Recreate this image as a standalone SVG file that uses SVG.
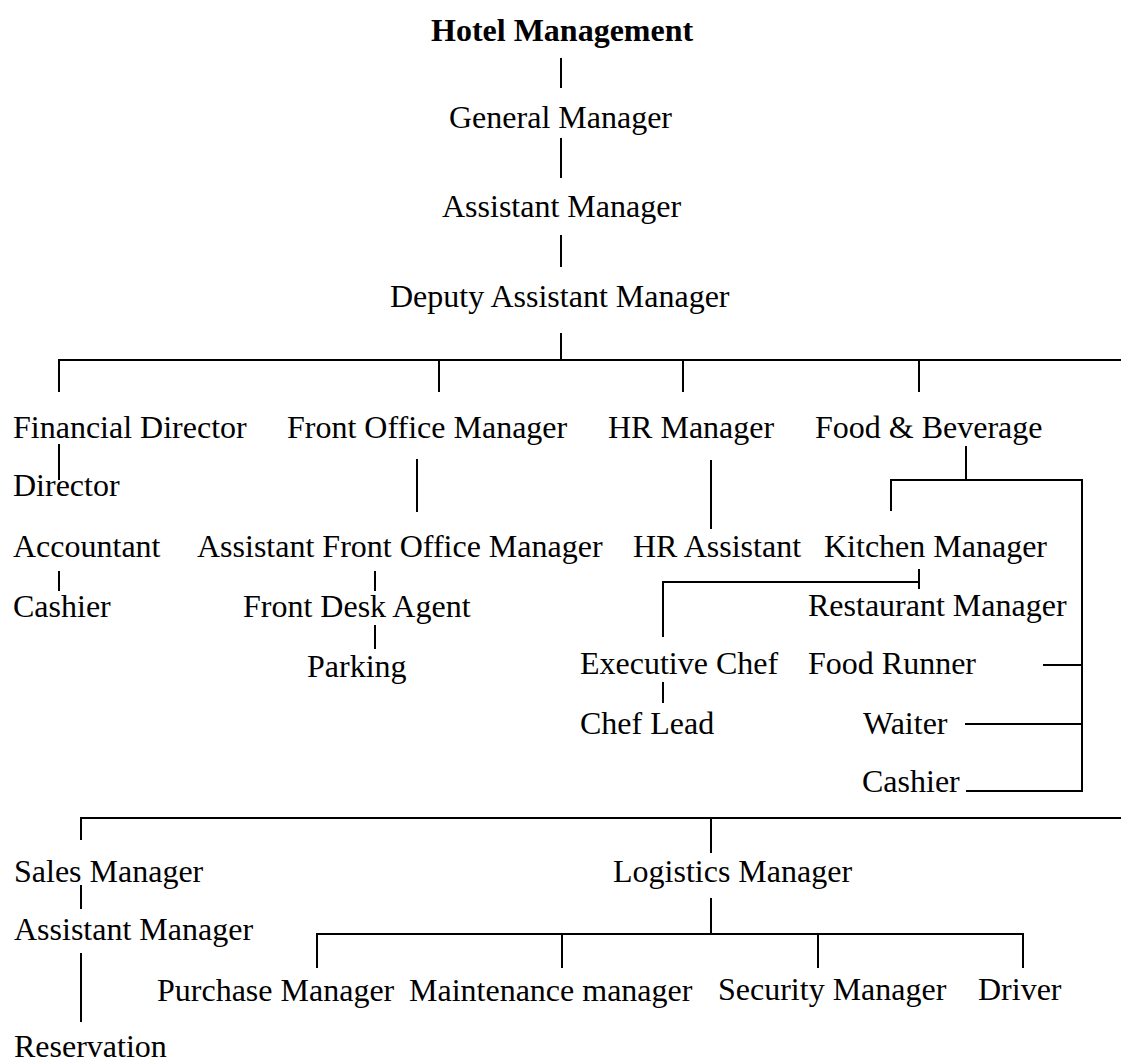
<svg xmlns="http://www.w3.org/2000/svg" width="1121" height="1060" viewBox="0 0 1121 1060">
  <style>
    text { font-family: "Liberation Serif", "Times New Roman", serif; font-size: 32px; fill: #000; }
    .title { font-weight: bold; }
    #connectors line { stroke: #000; stroke-width: 2; stroke-linecap: butt; }
  </style>
  <rect width="1121" height="1060" fill="#fff"/>

  <!-- connectors -->
  <g id="connectors">
    <!-- top spine -->
    <line x1="561" y1="58" x2="561" y2="88"/>
    <line x1="561" y1="138" x2="561" y2="178"/>
    <line x1="561" y1="235" x2="561" y2="267"/>
    <line x1="561" y1="333" x2="561" y2="360"/>
    <!-- department bus -->
    <line x1="58" y1="360" x2="1121" y2="360"/>
    <line x1="59" y1="360" x2="59" y2="392"/>
    <line x1="439" y1="360" x2="439" y2="392"/>
    <line x1="683" y1="360" x2="683" y2="392"/>
    <line x1="919" y1="360" x2="919" y2="392"/>
    <!-- finance -->
    <line x1="59" y1="444" x2="59" y2="480"/>
    <line x1="59" y1="571" x2="59" y2="591"/>
    <!-- front office -->
    <line x1="417" y1="459" x2="417" y2="512"/>
    <line x1="375" y1="571" x2="375" y2="591"/>
    <line x1="375" y1="625" x2="375" y2="649"/>
    <!-- HR -->
    <line x1="711" y1="460" x2="711" y2="529"/>
    <!-- food & beverage -->
    <line x1="966" y1="446" x2="966" y2="480"/>
    <line x1="890" y1="480" x2="1083" y2="480"/>
    <line x1="891" y1="480" x2="891" y2="511"/>
    <line x1="1082" y1="480" x2="1082" y2="792"/>
    <line x1="919" y1="569" x2="919" y2="589"/>
    <line x1="662" y1="582" x2="920" y2="582"/>
    <line x1="663" y1="582" x2="663" y2="637"/>
    <line x1="663" y1="682" x2="663" y2="703"/>
    <line x1="1043" y1="665" x2="1082" y2="665"/>
    <line x1="965" y1="724" x2="1082" y2="724"/>
    <line x1="966" y1="791" x2="1083" y2="791"/>
    <!-- lower bus -->
    <line x1="80" y1="818" x2="1121" y2="818"/>
    <line x1="81" y1="818" x2="81" y2="840"/>
    <line x1="711" y1="818" x2="711" y2="853"/>
    <!-- sales -->
    <line x1="81" y1="885" x2="81" y2="909"/>
    <line x1="81" y1="953" x2="81" y2="1022"/>
    <!-- logistics -->
    <line x1="711" y1="898" x2="711" y2="934"/>
    <line x1="316" y1="934" x2="1024" y2="934"/>
    <line x1="317" y1="934" x2="317" y2="968"/>
    <line x1="562" y1="934" x2="562" y2="968"/>
    <line x1="818" y1="934" x2="818" y2="968"/>
    <line x1="1023" y1="934" x2="1023" y2="968"/>
  </g>

  <!-- nodes -->
  <g id="hotel-management"><text class="title" x="431" y="41">Hotel Management</text></g>
  <g id="general-manager"><text x="449" y="128">General Manager</text></g>
  <g id="assistant-manager"><text x="442" y="217">Assistant Manager</text></g>
  <g id="deputy-assistant-manager"><text x="390" y="307">Deputy Assistant Manager</text></g>

  <g id="financial-director"><text x="13" y="438">Financial Director</text></g>
  <g id="director"><text x="13" y="496">Director</text></g>
  <g id="accountant"><text x="13" y="557">Accountant</text></g>
  <g id="cashier-finance"><text x="13" y="617">Cashier</text></g>

  <g id="front-office-manager"><text x="287" y="438">Front Office Manager</text></g>
  <g id="assistant-front-office-manager"><text x="197" y="557">Assistant Front Office Manager</text></g>
  <g id="front-desk-agent"><text x="243" y="617">Front Desk Agent</text></g>
  <g id="parking"><text x="307" y="677">Parking</text></g>

  <g id="hr-manager"><text x="608" y="438">HR Manager</text></g>
  <g id="hr-assistant"><text x="633" y="557">HR Assistant</text></g>

  <g id="food-beverage"><text x="815" y="438">Food &amp; Beverage</text></g>
  <g id="kitchen-manager"><text x="824" y="557">Kitchen Manager</text></g>
  <g id="restaurant-manager"><text x="808" y="616">Restaurant Manager</text></g>
  <g id="executive-chef"><text x="580" y="674">Executive Chef</text></g>
  <g id="chef-lead"><text x="580" y="734">Chef Lead</text></g>
  <g id="food-runner"><text x="808" y="674">Food Runner</text></g>
  <g id="waiter"><text x="863" y="734">Waiter</text></g>
  <g id="cashier-restaurant"><text x="862" y="792">Cashier</text></g>

  <g id="sales-manager"><text x="14" y="882">Sales Manager</text></g>
  <g id="sales-assistant-manager"><text x="14" y="940">Assistant Manager</text></g>
  <g id="reservation"><text x="14" y="1057">Reservation</text></g>

  <g id="logistics-manager"><text x="613" y="882">Logistics Manager</text></g>
  <g id="purchase-manager"><text x="157" y="1001">Purchase Manager</text></g>
  <g id="maintenance-manager"><text x="409" y="1001">Maintenance manager</text></g>
  <g id="security-manager"><text x="718" y="1000">Security Manager</text></g>
  <g id="driver"><text x="978" y="1000">Driver</text></g>
</svg>
